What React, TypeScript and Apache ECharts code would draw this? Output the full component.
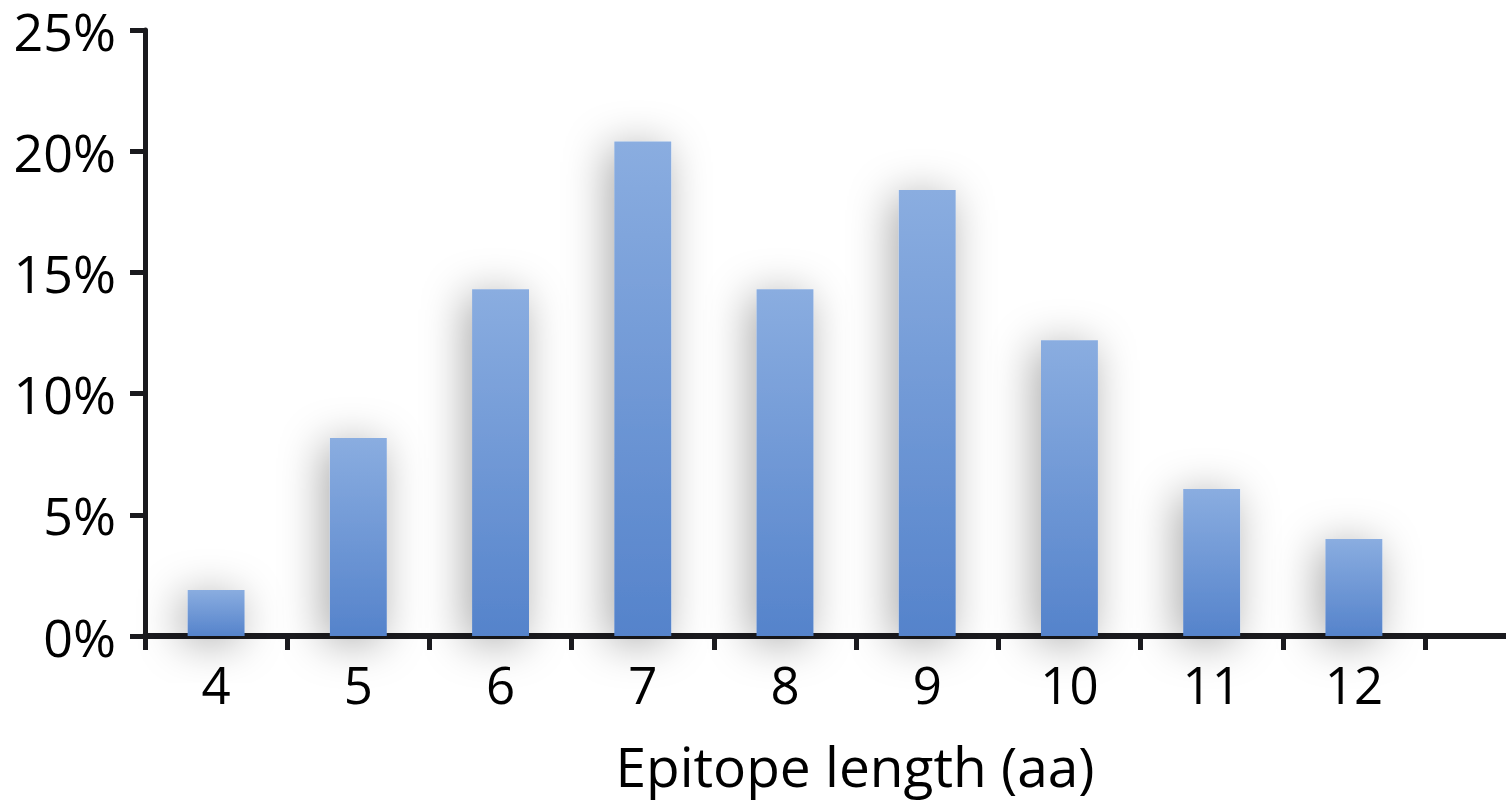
import React, { useEffect, useRef } from "react";
import * as echarts from "echarts";

const categories = ["4", "5", "6", "7", "8", "9", "10", "11", "12"];
const values = [1.9, 8.17, 14.3, 20.4, 14.3, 18.4, 12.2, 6.06, 4.0];
const yTicks = [0, 5, 10, 15, 20, 25];
const xTitle = "Epitope length (aa)";

const FONT = "'Open Sans', 'Noto Sans', sans-serif";

export default function App() {
  const ref = useRef<HTMLDivElement>(null);
  useEffect(() => {
    if (!ref.current) return;
    const chart = echarts.init(ref.current, undefined, { renderer: "svg" });
    chart.setOption({
      animation: false,
      backgroundColor: "#ffffff",
      grid: { left: 145, right: 81, top: 30, bottom: 167, containLabel: false },
      xAxis: {
        type: "category",
        data: categories,
        axisLine: { lineStyle: { color: "#1a1a1e", width: 6 } },
        axisTick: { show: true, length: 14, lineStyle: { color: "#1a1a1e", width: 5 }, alignWithLabel: false },
        axisLabel: { color: "#000", fontSize: 51, lineHeight: 52, fontFamily: FONT, margin: 22 },
        splitLine: { show: false },
      },
      yAxis: {
        type: "value",
        min: yTicks[0],
        max: yTicks[yTicks.length - 1],
        interval: 5,
        axisLine: { show: true, lineStyle: { color: "#1a1a1e", width: 5 } },
        axisTick: { show: true, length: 15, inside: false, lineStyle: { color: "#1a1a1e", width: 5 } },
        axisLabel: { color: "#000", fontSize: 52, lineHeight: 52, fontFamily: FONT, margin: 29, formatter: "{value}%" },
        splitLine: { show: false },
      },
      graphic: [
        {
          type: "line",
          shape: { x1: 1420, y1: 636, x2: 1506, y2: 636 },
          style: { stroke: "#1a1a1e", lineWidth: 6 },
          z: 10,
        },
        {
          type: "text",
          x: 855,
          y: 765,
          style: {
            text: xTitle,
            fontSize: 55,
            lineHeight: 56,
            fontFamily: FONT,
            fill: "#000",
            align: "center",
            verticalAlign: "middle",
          },
        },
      ],
      series: [
        {
          type: "bar",
          data: values,
          barWidth: "40%",
          itemStyle: {
            color: new echarts.graphic.LinearGradient(0, 0, 0, 1, [
              { offset: 0, color: "#8aade0" },
              { offset: 1, color: "#5583cb" },
            ]),
            shadowBlur: 44,
            shadowColor: "rgba(0,0,0,0.34)",
            shadowOffsetX: -6,
            shadowOffsetY: 6,
          },
        },
      ],
    });
    return () => chart.dispose();
  }, []);
  return (
    <div
      ref={ref}
      style={{ position: "absolute", left: 0, top: 0, width: 1506, height: 803 }}
    />
  );
}
